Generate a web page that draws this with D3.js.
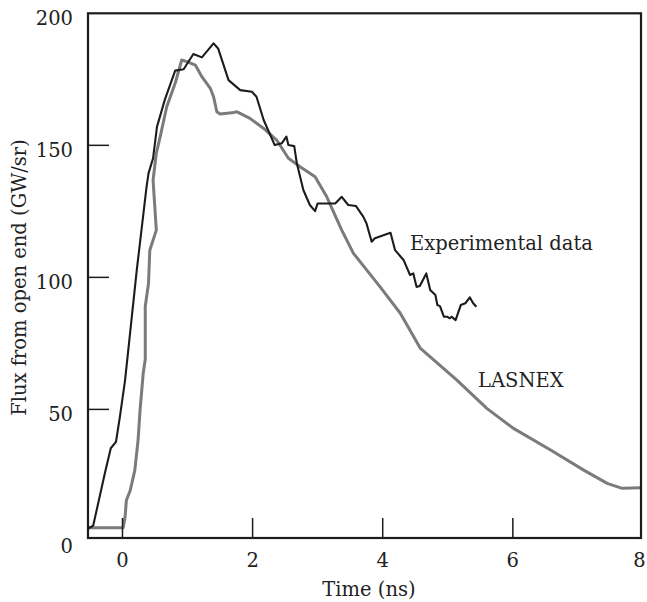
<!DOCTYPE html>
<html>
<head>
<meta charset="utf-8">
<script src="https://cdn.jsdelivr.net/npm/d3@7/dist/d3.min.js"></script>
<style>
  html, body { margin: 0; padding: 0; background: #fff; }
  svg { display: block; }
  text { font-family: "DejaVu Serif", serif; fill: #222; }
</style>
</head>
<body>
<svg id="chart" width="647" height="602"></svg>
<script>
// ---- data ----
const expT = [-0.52, -0.45, -0.42, -0.27, -0.18, -0.10, -0.04, 0.04, 0.22, 0.37, 0.40, 0.47, 0.53, 0.65, 0.81, 0.94, 1.09, 1.22, 1.40, 1.47, 1.63, 1.81, 1.99, 2.06, 2.17, 2.34, 2.45, 2.52, 2.55, 2.64, 2.68, 2.78, 2.88, 2.96, 3.00, 3.27, 3.37, 3.47, 3.59, 3.70, 3.75, 3.83, 3.88, 4.12, 4.19, 4.32, 4.42, 4.47, 4.52, 4.57, 4.67, 4.73, 4.81, 4.84, 4.88, 4.94, 4.99, 5.03, 5.06, 5.12, 5.20, 5.27, 5.34, 5.39, 5.44];
const expV = [5, 6, 9.3, 25.9, 35.3, 37.7, 47.2, 61.1, 102.8, 134.3, 139.4, 145.1, 157.0, 167.2, 178.3, 178.8, 184.6, 183.3, 188.6, 186.7, 174.7, 170.9, 170.3, 168.4, 159.6, 150.1, 150.8, 153.3, 150.1, 149.7, 143.2, 133.1, 127.4, 125.1, 128.0, 128.0, 130.5, 127.4, 127.0, 123.0, 120.5, 113.5, 114.8, 116.9, 110.3, 106.6, 100.9, 101.5, 96.4, 96.7, 101.5, 95.2, 93.3, 89.5, 89.1, 85.1, 85.1, 84.5, 85.1, 83.8, 89.5, 90.2, 92.4, 90.2, 88.9];

const lasT = [-0.53, 0.01, 0.04, 0.06, 0.12, 0.19, 0.24, 0.27, 0.32, 0.35, 0.35, 0.40, 0.42, 0.52, 0.47, 0.52, 0.58, 0.68, 0.81, 0.91, 0.99, 1.12, 1.22, 1.35, 1.40, 1.45, 1.50, 1.68, 1.76, 1.96, 2.17, 2.37, 2.55, 2.73, 2.96, 3.14, 3.37, 3.55, 3.96, 4.27, 4.58, 4.73, 5.14, 5.60, 6.01, 6.58, 7.09, 7.45, 7.68, 7.97];
const lasV = [5.2, 5.2, 9.3, 15.6, 19.4, 27.0, 38.4, 49.7, 64.0, 69.0, 89.0, 97.7, 110.3, 117.9, 136.8, 147.0, 153.3, 164.6, 173.5, 182.3, 181.7, 180.4, 176.0, 171.6, 168.4, 162.7, 161.9, 162.3, 162.7, 160.2, 156.4, 152.0, 145.1, 141.9, 138.1, 130.5, 117.9, 109.1, 96.4, 86.4, 73.1, 69.9, 61.1, 50.4, 42.8, 34.6, 27.0, 22.0, 20.1, 20.3];

const xTicks = [0, 2, 4, 6, 8];
const yTicks = [0, 50, 100, 150, 200];
const xTitle = "Time (ns)";
const yTitle = "Flux from open end (GW/sr)";
const seriesLabels = ["Experimental data", "LASNEX"];

// ---- layout ----
const svg = d3.select("#chart");
const pL = 88, pR = 641, pT = 13.3, pB = 538;
const xDomain = [-0.53, 7.97];
const yDomain = [1.3, 200];

const x = d3.scaleLinear().domain(xDomain).range([pL, pR]);
const y = d3.scaleLinear().domain(yDomain).range([pB, pT]);

const fs = 19.5;

// clip
svg.append("defs").append("clipPath").attr("id", "plot")
  .append("rect").attr("x", pL).attr("y", pT)
  .attr("width", pR - pL).attr("height", pB - pT);

const line = d3.line().x(d => x(d[0])).y(d => y(d[1]));

const lasData = lasT.map((t, i) => [t, lasV[i]]);
const expData = expT.map((t, i) => [t, expV[i]]);

svg.append("path").datum(lasData)
  .attr("clip-path", "url(#plot)")
  .attr("d", line)
  .attr("fill", "none").attr("stroke", "#7b7b7b")
  .attr("stroke-width", 3).attr("stroke-linejoin", "round");

svg.append("path").datum(expData)
  .attr("clip-path", "url(#plot)")
  .attr("d", line)
  .attr("fill", "none").attr("stroke", "#1c1c1c")
  .attr("stroke-width", 2.1).attr("stroke-linejoin", "round");

// frame
svg.append("rect")
  .attr("x", pL).attr("y", pT)
  .attr("width", pR - pL).attr("height", pB - pT)
  .attr("fill", "none").attr("stroke", "#1c1c1c").attr("stroke-width", 2.2);

// y ticks (inward)
svg.append("g").selectAll("line")
  .data(yTicks.filter(v => v > yDomain[0] && v < yDomain[1]))
  .join("line")
  .attr("x1", pL).attr("x2", pL + 21)
  .attr("y1", d => y(d)).attr("y2", d => y(d))
  .attr("stroke", "#1c1c1c").attr("stroke-width", 1.5);

svg.append("g").selectAll("text")
  .data(yTicks).join("text")
  .attr("x", pL - 15)
  .attr("y", d => y(d) + 11.5)
  .attr("text-anchor", "end")
  .attr("font-size", fs)
  .text(d => d);

// x ticks (inward)
svg.append("g").selectAll("line")
  .data(xTicks.filter(v => v > xDomain[0] && v < xDomain[1]))
  .join("line")
  .attr("x1", d => x(d)).attr("x2", d => x(d))
  .attr("y1", pB).attr("y2", pB - 20)
  .attr("stroke", "#1c1c1c").attr("stroke-width", 1.5);

svg.append("g").selectAll("text")
  .data(xTicks).join("text")
  .attr("x", d => Math.min(x(d), 639.5))
  .attr("y", pB + 29)
  .attr("text-anchor", "middle")
  .attr("font-size", fs)
  .text(d => d);

// titles
svg.append("text")
  .attr("x", 369).attr("y", 596)
  .attr("text-anchor", "middle").attr("font-size", fs)
  .text(xTitle);

svg.append("text")
  .attr("transform", "translate(26,277.5) rotate(-90)")
  .attr("text-anchor", "middle").attr("font-size", fs)
  .text(yTitle);

// series labels
svg.append("text")
  .attr("x", 410).attr("y", 250)
  .attr("font-size", fs)
  .text(seriesLabels[0]);

svg.append("text")
  .attr("x", 478).attr("y", 386.7)
  .attr("font-size", fs)
  .text(seriesLabels[1]);
</script>
</body>
</html>
